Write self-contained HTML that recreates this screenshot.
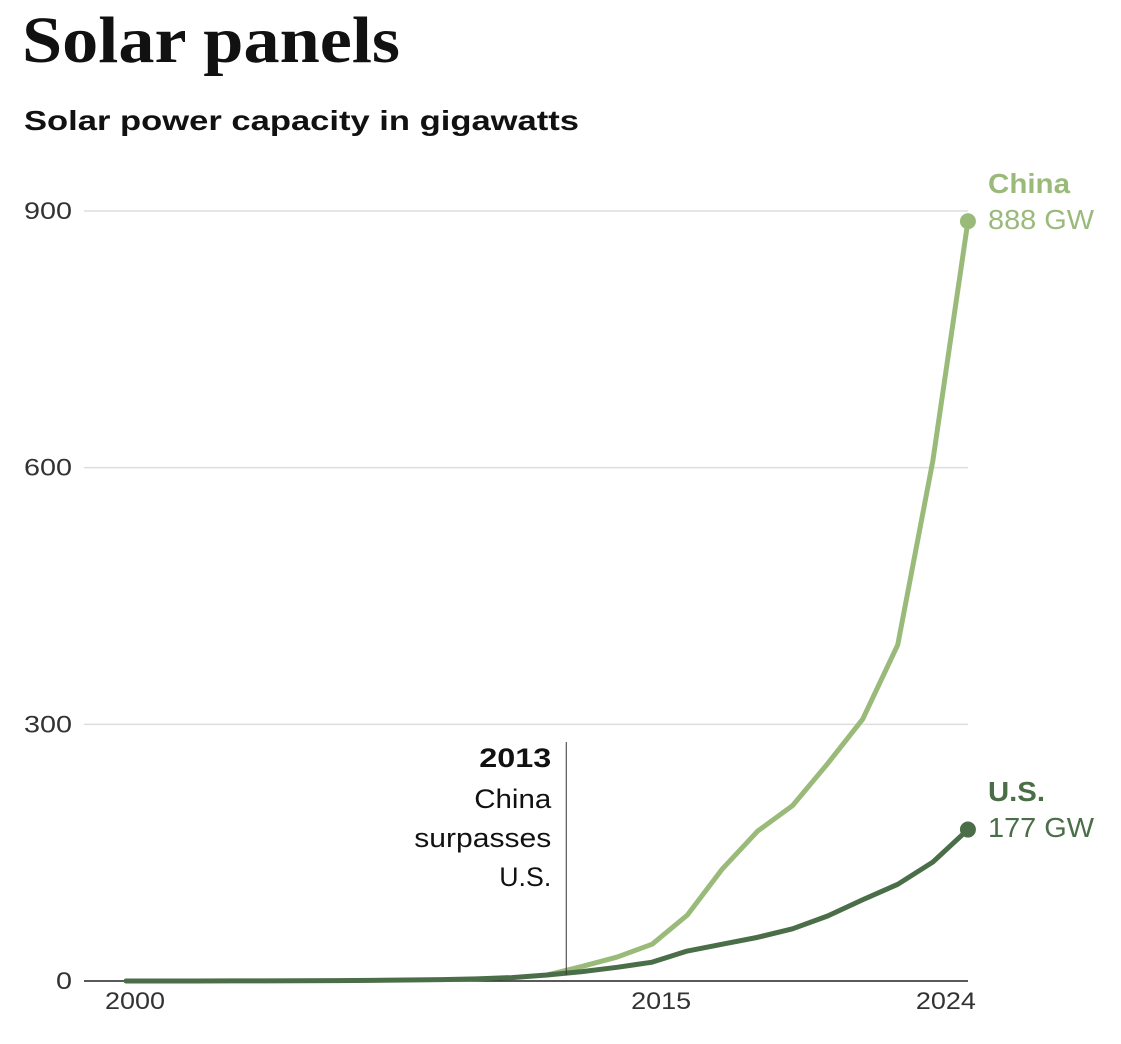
<!DOCTYPE html>
<html><head><meta charset="utf-8"><style>
body{margin:0;background:#fff;width:1121px;height:1039px;overflow:hidden;font-family:"Liberation Sans",sans-serif}
</style></head><body>
<svg width="1121" height="1039">
<text x="22" y="62" font-family="Liberation Serif,serif" font-weight="bold" font-size="66" fill="#111" textLength="378" lengthAdjust="spacingAndGlyphs">Solar panels</text>
<text x="24" y="130" font-weight="bold" font-size="28" fill="#111" textLength="555" lengthAdjust="spacingAndGlyphs">Solar power capacity in gigawatts</text>
<g id="grid"></g><g id="lines"></g><g id="labels"></g>
</svg>
<script>
const years=[2000,2001,2002,2003,2004,2005,2006,2007,2008,2009,2010,2011,2012,2013,2014,2015,2016,2017,2018,2019,2020,2021,2022,2023,2024];
const china=[0,0,0,0,0,0,0,0,0.1,0.3,0.9,3,7,17,28,43,77,131,175,205,254,306,393,608,888];
const us=[0,0,0,0.1,0.2,0.3,0.5,0.8,1.2,1.6,2.5,4,7,11,16,22,35,43,51,61,76,95,113,139,177];
const yTicks=[0,300,600,900];
const xTickYears=[2000,2015,2024];
const NS="http://www.w3.org/2000/svg";
const svg=document.querySelector('svg');
const xs=y=>126+(y-2000)*35.08;
const ys=v=>981-v*0.8556;
function mk(tag,attrs,parent,text){const e=document.createElementNS(NS,tag);for(const k in attrs)e.setAttribute(k,attrs[k]);if(text!==undefined)e.textContent=text;(parent||svg).appendChild(e);return e;}
const grid=document.getElementById('grid'),lines=document.getElementById('lines'),labels=document.getElementById('labels');
yTicks.forEach(t=>{
 const l=mk('line',{x1:84,x2:968,y1:ys(t),y2:ys(t),stroke:t===0?'#222':'#ddd','stroke-width':1.5},grid);
 
 
 const len=String(t).length*16;
 const tx=mk('text',{x:72,y:ys(t)+8,'text-anchor':'end','font-size':24,fill:'#333',textLength:len,lengthAdjust:'spacingAndGlyphs'},grid,t);
 
 
});
xTickYears.forEach((y,i)=>{
 const off=i===2?-22:9;
 const tx=mk('text',{x:xs(y)+off,y:1009,'text-anchor':'middle','font-size':24,fill:'#333',textLength:60,lengthAdjust:'spacingAndGlyphs'},grid,y);
 
 
});
const ax=xs(2012.55);
const al=mk('line',{x1:ax,x2:ax,y1:742,y2:975,stroke:'#333','stroke-width':1},labels);


[['2013',767,'bold',72],['China',808,'normal',77],['surpasses',847,'normal',137],['U.S.',886,'normal',52]].forEach(([s,y,w,len])=>{
 const t=mk('text',{x:ax-15,y:y,'text-anchor':'end','font-size':27,'font-weight':w,fill:'#111',textLength:len,lengthAdjust:'spacingAndGlyphs'},labels,s);
 
 
});
function series(vals,color,name,start){
 const pts=[];years.forEach((y,i)=>{if(y>=start)pts.push(xs(y)+','+ys(vals[i]));});
 const p=mk('polyline',{points:pts.join(' '),fill:'none',stroke:color,'stroke-width':5,'stroke-linejoin':'round','stroke-linecap':'round'},lines);
 
 
 const n=vals.length-1;
 const c=mk('circle',{cx:xs(years[n]),cy:ys(vals[n]),r:8,fill:color},lines);
 
 
}
series(china,'#9aba7a','china',2012);
series(us,'#4a6e48','us',2000);
function lab(title,val,color,y,name,tl){
 const a=mk('text',{x:988,y:y,'font-size':28,'font-weight':'bold',fill:color,textLength:tl,lengthAdjust:'spacingAndGlyphs'},labels,title);
 
 
 const b=mk('text',{x:988,y:y+36,'font-size':28,fill:color,textLength:106,lengthAdjust:'spacingAndGlyphs'},labels,Math.round(val)+' GW');
 
 
}
lab('China',china[china.length-1],'#9aba7a',193,'china',82);
lab('U.S.',us[us.length-1],'#4a6e48',801,'us',57);
</script>
</body></html>
